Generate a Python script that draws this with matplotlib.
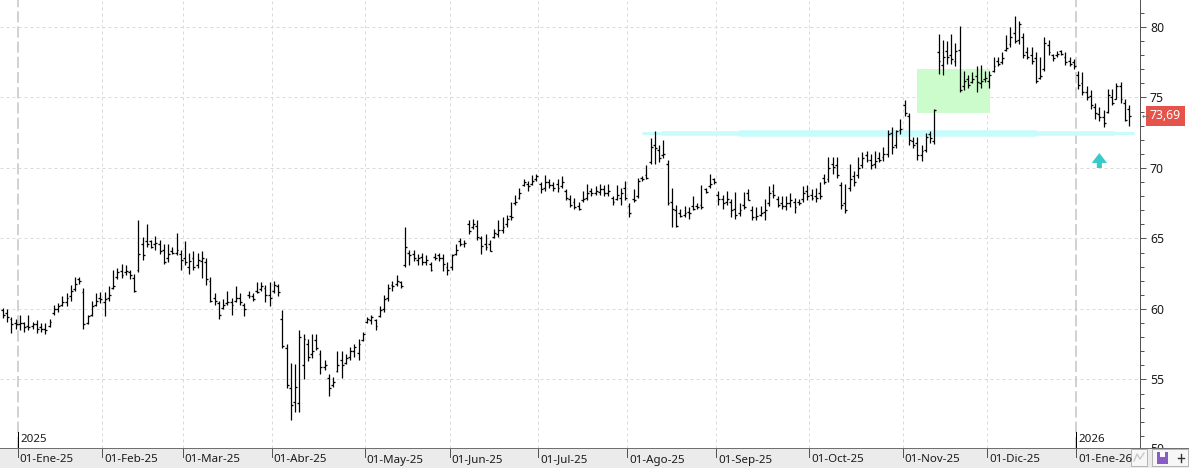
import matplotlib
matplotlib.use("Agg")
import matplotlib.pyplot as plt
import matplotlib.transforms as mtransforms
from matplotlib.patches import Rectangle, Polygon

plt.rcParams['font.family'] = ['Noto Sans', 'DejaVu Sans']

# ---------------- data ----------------
highs = [60.05, 60.0, 59.4, 59.3, 59.6, 59.1, 59.6, 59.1, 59.2, 59.0, 59.0, 59.3, 60.3, 60.4, 60.9, 61.1, 61.7, 62.3, 62.3, 61.5,
         59.6, 60.6, 61.1, 61.2, 61.2, 61.6, 62.8, 62.9, 63.2, 63.1, 62.8, 62.5, 66.3, 65.1, 66.0, 64.9, 65.2, 64.9, 64.6, 64.6,
         64.4, 65.4, 64.2, 64.8, 64.0, 64.1, 64.0, 64.1, 63.6, 62.3, 61.1, 60.6, 60.7, 61.3, 60.8, 61.6, 61.1, 60.4, 61.3, 61.1,
         61.9, 61.9, 61.7, 61.9, 62.0, 61.8, 59.9, 57.5, 56.2, 56.1, 58.5, 58.2, 57.9, 58.2, 58.2, 57.1, 56.4, 55.4, 55.2, 57.0,
         57.0, 56.8, 57.3, 57.5, 57.9, 58.4, 59.4, 59.6, 59.3, 60.2, 61.0, 61.8, 62.0, 62.4, 62.0, 65.8, 64.2, 64.2, 63.9, 64.0,
         63.8, 63.3, 64.0, 64.0, 63.9, 63.3, 63.9, 64.6, 65.0, 64.9, 66.3, 66.4, 66.3, 65.2, 65.3, 64.9, 65.7, 66.3, 66.5, 66.7,
         67.6, 68.1, 68.6, 69.2, 69.1, 69.5, 69.6, 69.0, 69.5, 69.2, 69.0, 69.2, 69.4, 68.5, 68.1, 67.9, 67.6, 68.4, 68.9, 68.6,
         68.7, 68.9, 68.8, 68.9, 68.0, 68.8, 68.6, 69.1, 67.5, 68.5, 69.3, 69.4, 70.2, 72.1, 72.6, 71.6, 72.0, 70.6, 68.6, 67.4,
         67.1, 67.3, 67.2, 68.0, 67.5, 68.8, 68.6, 69.6, 69.3, 68.4, 68.1, 68.4, 67.8, 68.3, 67.5, 68.3, 68.5, 67.3, 67.2, 67.3,
         67.8, 68.7, 68.9, 68.0, 68.0, 68.0, 68.2, 67.9, 67.8, 68.7, 68.8, 68.5, 68.6, 69.0, 69.6, 70.8, 70.8, 70.8, 69.0, 68.9,
         70.3, 69.8, 70.8, 71.1, 71.2, 71.0, 71.2, 71.1, 71.5, 72.7, 72.9, 72.7, 73.5, 74.8, 73.9, 72.2, 72.2, 71.6, 72.5, 72.6,
         74.2, 79.5, 79.1, 79.0, 79.5, 78.9, 80.1, 76.9, 76.6, 76.8, 77.2, 77.3, 76.9, 76.9, 77.9, 77.9, 78.2, 79.4, 80.0, 80.8,
         80.4, 79.6, 78.6, 78.6, 78.2, 77.9, 79.3, 79.1, 78.1, 78.3, 78.4, 78.2, 77.9, 77.7, 76.9, 76.8, 75.8, 75.5, 74.6, 74.3,
         74.1, 75.6, 75.6, 76.0, 76.1, 74.9, 74.5]
lows = [59.35, 59.1, 58.3, 58.6, 58.5, 58.4, 58.5, 58.6, 58.3, 58.4, 58.2, 58.7, 59.6, 59.8, 60.2, 60.2, 60.6, 61.3, 61.8, 58.6,
        58.9, 59.5, 60.2, 60.4, 59.5, 60.6, 61.4, 62.1, 62.2, 62.4, 62.1, 61.2, 62.6, 63.5, 64.4, 64.3, 64.2, 63.9, 63.2, 63.3,
        63.9, 63.8, 62.8, 63.1, 62.5, 62.8, 62.9, 62.2, 61.7, 60.5, 60.3, 59.3, 60.0, 60.3, 59.6, 60.5, 60.3, 59.5, 60.8, 60.6,
        61.1, 61.3, 60.5, 60.2, 61.1, 60.9, 57.2, 54.4, 52.1, 52.7, 52.7, 55.0, 56.3, 56.5, 57.1, 55.4, 55.7, 53.8, 54.5, 55.5,
        55.1, 56.1, 56.4, 56.6, 56.4, 57.7, 59.0, 58.9, 58.5, 59.4, 59.8, 60.6, 61.3, 61.6, 61.5, 63.0, 63.1, 63.4, 63.1, 63.1,
        63.1, 62.7, 63.5, 63.4, 62.7, 62.4, 62.8, 63.8, 64.5, 64.4, 65.3, 65.7, 64.9, 63.9, 64.2, 64.1, 65.0, 65.1, 65.4, 65.8,
        66.3, 67.4, 67.8, 68.7, 68.4, 68.8, 69.1, 68.2, 68.4, 68.6, 68.4, 68.3, 68.6, 67.7, 67.2, 67.1, 67.0, 67.6, 67.7, 68.0,
        68.1, 68.1, 68.0, 68.0, 67.4, 67.7, 67.4, 67.7, 66.5, 67.6, 67.9, 69.1, 69.2, 70.3, 70.3, 70.4, 70.7, 67.4, 65.8, 65.8,
        66.5, 66.5, 66.4, 67.0, 67.1, 67.1, 68.2, 68.6, 68.9, 67.4, 67.1, 67.4, 66.5, 66.4, 66.6, 67.1, 67.7, 66.3, 66.3, 66.6,
        66.3, 67.3, 67.9, 67.2, 67.1, 67.0, 67.2, 66.8, 67.4, 67.6, 67.7, 67.7, 67.6, 67.8, 68.9, 69.0, 69.6, 69.3, 67.1, 66.8,
        68.4, 68.7, 69.3, 70.0, 70.4, 69.9, 70.0, 70.4, 70.5, 70.8, 71.0, 71.4, 72.4, 73.7, 71.6, 71.4, 70.6, 70.5, 71.1, 71.8,
        71.7, 76.7, 76.6, 77.4, 77.4, 77.2, 75.4, 75.5, 75.7, 76.0, 75.4, 75.7, 76.1, 75.7, 76.8, 77.2, 77.4, 78.3, 78.6, 78.9,
        78.8, 77.8, 77.7, 77.4, 76.0, 76.3, 76.9, 78.0, 77.6, 77.9, 78.0, 77.3, 77.2, 77.0, 75.6, 75.2, 74.8, 74.2, 73.5, 73.3,
        72.9, 73.9, 74.5, 74.9, 74.6, 73.3, 73.0]
opens = [59.9, 59.7, 59.3, 59.0, 58.9, 59.0, 58.8, 58.8, 58.9, 58.7, 58.6, 58.8, 59.7, 60.0, 60.3, 60.5, 60.9, 61.4, 62.1, 61.2,
         59.0, 59.6, 60.3, 60.8, 60.5, 60.8, 61.5, 62.3, 62.7, 62.6, 62.6, 62.2, 62.8, 64.6, 64.8, 64.8, 64.6, 64.6, 64.2, 63.6,
         64.1, 64.0, 63.9, 63.6, 63.0, 63.6, 63.1, 63.4, 63.3, 62.0, 60.8, 60.4, 60.1, 60.4, 60.5, 60.6, 60.8, 60.3, 61.0, 60.9,
         61.3, 61.4, 61.5, 61.0, 61.3, 61.6, 59.3, 57.2, 54.4, 53.4, 53.3, 56.0, 57.5, 56.8, 57.8, 56.8, 55.9, 55.1, 54.6, 55.6,
         56.4, 56.2, 56.6, 57.0, 56.9, 57.8, 59.1, 59.2, 59.2, 59.5, 60.0, 60.8, 61.7, 61.8, 61.9, 63.1, 64.0, 63.9, 63.5, 63.7,
         63.3, 63.2, 63.7, 63.8, 63.6, 63.0, 63.0, 63.9, 64.8, 64.6, 66.0, 65.8, 65.9, 65.0, 64.6, 64.6, 65.1, 65.3, 65.6, 66.0,
         66.6, 67.5, 67.9, 68.8, 68.9, 68.9, 69.2, 68.9, 68.6, 69.0, 68.8, 68.9, 68.7, 68.4, 67.8, 67.6, 67.3, 67.7, 67.9, 68.4,
         68.2, 68.3, 68.5, 68.2, 67.9, 67.8, 67.9, 68.6, 67.3, 67.8, 68.0, 69.3, 69.5, 70.4, 71.6, 71.3, 70.9, 70.3, 67.6, 67.0,
         66.8, 66.7, 66.9, 67.3, 67.3, 67.4, 68.5, 68.7, 69.2, 68.1, 67.8, 67.6, 67.6, 67.1, 66.8, 67.4, 68.2, 67.0, 66.5, 66.7,
         66.9, 67.5, 68.4, 67.8, 67.5, 67.3, 67.5, 67.6, 67.6, 67.8, 68.4, 68.1, 68.0, 68.2, 69.3, 69.2, 70.3, 70.2, 68.8, 67.5,
         68.6, 69.4, 69.5, 70.2, 70.9, 70.6, 70.3, 70.7, 70.8, 71.0, 72.5, 71.6, 72.7, 74.5, 73.7, 71.9, 71.8, 70.9, 71.3, 72.4,
         71.9, 78.2, 77.3, 78.3, 78.0, 77.6, 78.4, 75.8, 76.3, 76.1, 76.5, 76.0, 76.3, 76.2, 76.9, 77.6, 77.5, 78.4, 78.8, 79.6,
         79.1, 79.3, 78.2, 78.0, 77.8, 76.4, 77.0, 78.7, 78.0, 78.0, 78.3, 77.9, 77.6, 77.5, 76.6, 76.0, 75.4, 75.1, 74.3, 73.8,
         73.6, 74.0, 75.0, 74.9, 75.8, 74.6, 74.2]
closes = [59.6, 59.4, 58.9, 58.9, 59.0, 58.7, 58.7, 58.9, 58.6, 58.6, 58.5, 59.1, 60.0, 60.2, 60.5, 60.8, 61.3, 61.8, 62.0, 58.9,
          59.5, 60.2, 60.6, 60.7, 60.7, 61.0, 61.6, 62.6, 62.4, 62.7, 62.4, 61.3, 63.9, 63.8, 64.6, 64.4, 64.7, 64.1, 63.3, 63.9,
          64.0, 64.2, 63.5, 63.3, 63.4, 63.0, 63.5, 63.6, 62.1, 60.6, 60.6, 59.6, 60.3, 60.5, 60.3, 60.8, 60.5, 60.0, 60.9, 60.7,
          61.2, 61.6, 61.0, 60.8, 61.7, 61.2, 57.4, 54.6, 53.2, 54.5, 58.0, 57.9, 56.6, 57.0, 57.2, 55.9, 56.0, 54.4, 54.8, 56.0,
          56.0, 56.5, 57.0, 57.3, 57.5, 58.2, 59.3, 59.4, 58.8, 59.9, 60.7, 61.5, 61.6, 62.0, 61.6, 64.4, 63.8, 63.6, 63.6, 63.3,
          63.5, 62.8, 63.6, 63.6, 63.2, 62.8, 63.8, 64.2, 64.6, 64.7, 65.5, 66.0, 65.1, 64.5, 64.4, 64.1, 65.4, 65.6, 65.8, 66.4,
          66.5, 67.6, 68.2, 69.0, 68.7, 69.1, 69.4, 68.5, 69.0, 68.8, 68.6, 68.6, 69.0, 67.9, 67.4, 67.2, 67.1, 67.8, 68.2, 68.2,
          68.4, 68.5, 68.2, 68.4, 67.6, 68.1, 68.2, 67.9, 66.8, 67.7, 69.1, 69.2, 69.3, 71.5, 71.4, 70.7, 71.0, 67.5, 67.1, 65.9,
          66.6, 66.8, 66.8, 67.1, 67.2, 67.2, 68.3, 68.9, 69.0, 67.8, 67.5, 67.8, 67.0, 66.7, 67.0, 67.2, 67.7, 66.5, 66.6, 66.8,
          67.0, 68.2, 68.1, 67.4, 67.3, 67.5, 67.7, 67.2, 67.5, 68.2, 68.0, 67.9, 67.9, 68.0, 69.0, 70.0, 70.1, 69.5, 67.4, 67.0,
          69.2, 69.0, 70.0, 70.7, 70.6, 70.2, 70.5, 70.6, 71.0, 72.4, 71.5, 72.6, 72.8, 73.9, 72.0, 71.6, 70.9, 71.2, 72.2, 72.1,
          74.1, 77.6, 77.9, 77.9, 77.7, 78.3, 75.5, 76.2, 75.9, 76.3, 76.1, 76.2, 76.4, 76.6, 77.2, 77.4, 77.8, 78.5, 79.3, 79.0,
          80.2, 78.0, 77.9, 77.6, 76.2, 76.5, 78.9, 78.2, 77.8, 78.1, 78.1, 77.5, 77.4, 77.2, 75.9, 75.4, 75.0, 74.5, 73.9, 73.6,
          73.2, 75.2, 74.6, 75.8, 74.9, 73.4, 73.69]

month_labels = ['01-Ene-25', '01-Feb-25', '01-Mar-25', '01-Abr-25', '01-May-25', '01-Jun-25', '01-Jul-25',
                '01-Ago-25', '01-Sep-25', '01-Oct-25', '01-Nov-25', '01-Dic-25', '01-Ene-26']
month_first_bar = [4, 24, 43, 64, 86, 106, 127, 148, 169, 191, 213, 233, 254]
year_labels = {0: '2025', 12: '2026'}

support_level = 72.45
support_spans = [(151.2, 266.9, 3.0), (155.7, 262.2, 4.5), (174.1, 243.8, 6.5)]   # start bar, end bar, width px
zone_bars = (215.9, 233.2)
zone_prices = (73.92, 77.0)
arrow_bar = 259.0
arrow_prices = (70.0, 71.06)
last_price = closes[-1]

# ---------------- figure ----------------
W, H = 1189, 468
fig = plt.figure(figsize=(W / 100, H / 100), dpi=100)
fig.patch.set_facecolor('white')
ax = fig.add_axes([0, 20 / H, 1140 / W, 448 / H])
ax.set_facecolor('white')
n = len(closes)
ax.set_xlim(-0.71, 268.6)
ax.set_ylim(50.14, 81.915)

px = 0.72  # points per pixel
# grid
for p in range(55, 81, 5):
    ax.axhline(p, color='#dadada', lw=1 * px, dashes=(3, 3), zorder=0)
for i, b in enumerate(month_first_bar):
    if i in year_labels:
        ax.axvline(b - 0.5, color='#c8c8c8', lw=1.6 * px, dashes=(7, 2.5), zorder=0)
    else:
        ax.axvline(b - 0.5, color='#dadada', lw=1 * px, dashes=(3, 3), zorder=0)

# annotations
ax.add_patch(Rectangle((zone_bars[0], zone_prices[0]), zone_bars[1] - zone_bars[0],
                       zone_prices[1] - zone_prices[0], facecolor='#ccfccc', edgecolor='none', zorder=1))
for s, e, w in support_spans:
    ax.plot([s, e], [support_level, support_level], color='#c8fcfc', lw=w * px,
            solid_capstyle='round', zorder=1)

# OHLC bars
xs = list(range(n))
ax.vlines(xs, lows, highs, color='black', lw=1.25 * px, zorder=3)
ax.hlines(opens, [x - 0.45 for x in xs], xs, color='black', lw=1.3 * px, zorder=3)
ax.hlines(closes, xs, [x + 0.45 for x in xs], color='black', lw=1.3 * px, zorder=3)

# cyan arrow
hw, sw = 1.8, 0.6
base, tip = arrow_prices
neck = tip - 0.7
ax.add_patch(Polygon([(arrow_bar - sw, base), (arrow_bar - sw, neck), (arrow_bar - hw, neck),
                      (arrow_bar, tip), (arrow_bar + hw, neck), (arrow_bar + sw, neck),
                      (arrow_bar + sw, base)], closed=True, facecolor='#36caca', edgecolor='none', zorder=4))

# year markers
for i, lab in year_labels.items():
    b = month_first_bar[i] - 0.5
    ax.plot([b, b], [0, 0.036], color='black', lw=1 * px,
            transform=mtransforms.blended_transform_factory(ax.transData, ax.transAxes), zorder=5)
    ax.text(b + 0.5, 0.006, lab, transform=mtransforms.blended_transform_factory(ax.transData, ax.transAxes),
            fontsize=8.3, color='#1a1a1a', ha='left', va='bottom', zorder=5)

# axes styling
for sp in ['top', 'left', 'bottom']:
    ax.spines[sp].set_visible(False)
ax.spines['right'].set_color('#555555')
ax.spines['right'].set_linewidth(1 * px)
ax.yaxis.tick_right()
ax.set_yticks(list(range(55, 81, 5)))
ax.set_yticks(list(range(51, 82)), minor=True)
ax.tick_params(axis='y', which='major', length=6 * px, width=1 * px, color='#555555', pad=4 * px,
               labelsize=8.8, labelcolor='#1a1a1a')
ax.tick_params(axis='y', which='minor', length=3.5 * px, width=1 * px, color='#555555')
ax.set_xticks([])
ax.text(1 + 10 / 1140, 50, '50', transform=mtransforms.blended_transform_factory(ax.transAxes, ax.transData),
        fontsize=8.8, color='#1a1a1a', ha='left', va='center', clip_on=False)

# last price label
bt = mtransforms.blended_transform_factory(ax.transAxes, ax.transData)
ax.text(1 + 10 / 1140, last_price, f'{last_price:.2f}'.replace('.', ','), transform=bt, fontsize=8.8,
        color='white', ha='left', va='center', clip_on=False,
        bbox=dict(boxstyle='square,pad=0.3', facecolor='#e5534b', edgecolor='none'))
ax.text(1 + 2 / 1140, last_price, '←', transform=bt, fontsize=6, color='#666666', ha='left',
        va='center', clip_on=False, family='DejaVu Sans')

# bottom strip with month labels
axs = fig.add_axes([0, 0, 1, 20 / H])
axs.set_facecolor('#ebebeb')
axs.set_xlim(0, 1)
axs.set_ylim(0, 1)
axs.set_xticks([])
axs.set_yticks([])
for sp in ['left', 'right', 'bottom']:
    axs.spines[sp].set_visible(False)
axs.spines['top'].set_color('#707070')
axs.spines['top'].set_linewidth(1 * px)
st = mtransforms.blended_transform_factory(ax.transData, axs.transAxes)
for b, lab in zip(month_first_bar, month_labels):
    axs.plot([b - 0.5, b - 0.5], [0.55, 1], color='#555555', lw=1 * px, transform=st, clip_on=False)
    axs.text(b - 0.5 + 0.45, 0.4, lab, transform=st, fontsize=8.3, color='#1a1a1a', ha='left', va='center')

# small toolbar boxes at bottom right
axs.add_patch(Rectangle((1131 / W, 0.1), 16 / W, 0.85, facecolor='#f7f7f7', edgecolor='#b5b5b5',
                        lw=1 * px, transform=axs.transAxes))
axs.plot([1134 / W, 1137 / W, 1140 / W, 1144 / W], [0.35, 0.7, 0.45, 0.75], color='#c8c8c8', lw=1,
         transform=axs.transAxes)
axs.add_patch(Rectangle((1152 / W, 0.1), 36 / W, 0.85, facecolor='#f7f7f7', edgecolor='#b5b5b5',
                        lw=1 * px, transform=axs.transAxes))
axs.add_patch(Rectangle((1157 / W, 0.2), 11 / W, 0.6, facecolor='#8a5cc8', edgecolor='none',
                        transform=axs.transAxes))
axs.add_patch(Rectangle((1160 / W, 0.55), 5 / W, 0.25, facecolor='white', edgecolor='none',
                        transform=axs.transAxes))
axs.plot([1178 / W, 1184 / W], [0.5, 0.5], color='#333333', lw=1, transform=axs.transAxes)
axs.plot([1181 / W, 1181 / W], [0.3, 0.7], color='#333333', lw=1, transform=axs.transAxes)

fig.savefig('out.png', dpi=100)
